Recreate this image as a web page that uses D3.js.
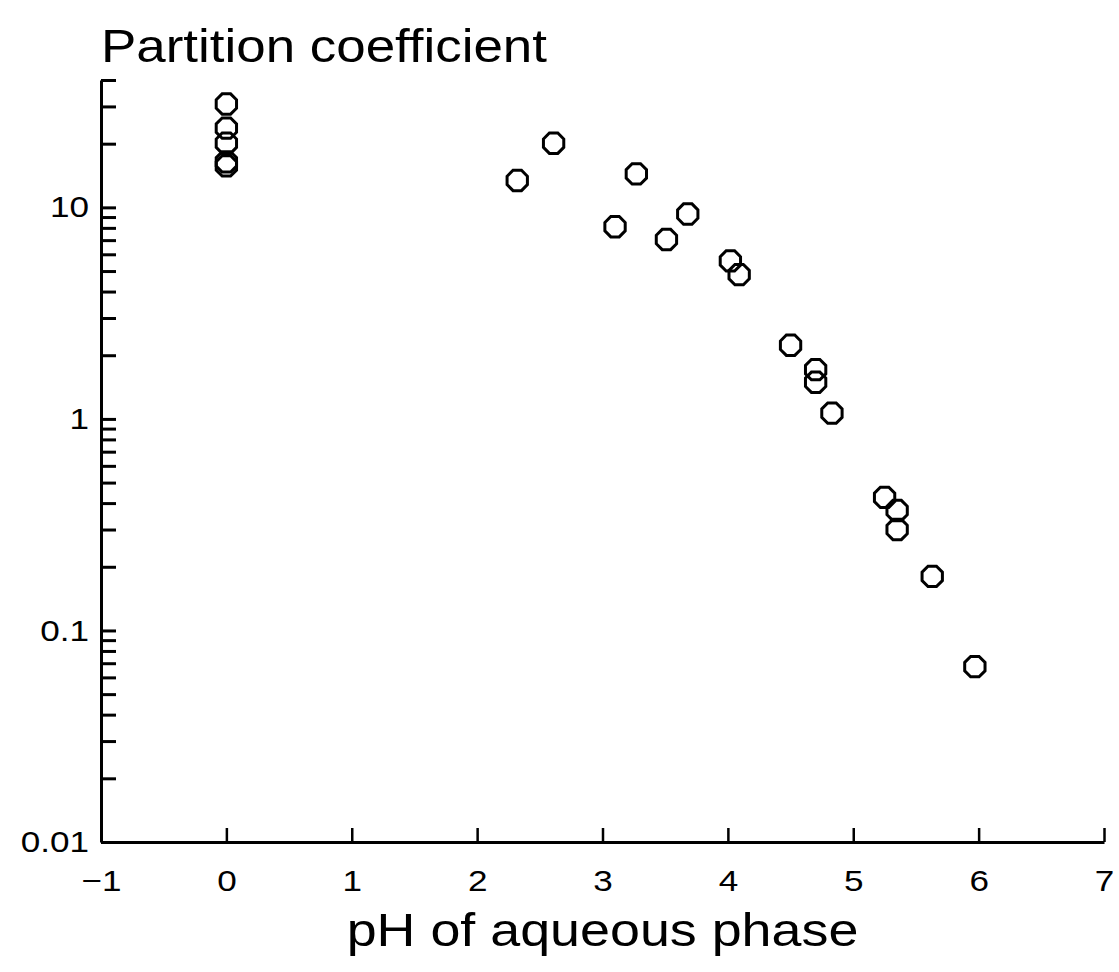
<!DOCTYPE html>
<html>
<head>
<meta charset="utf-8">
<script src="https://cdn.jsdelivr.net/npm/d3@7"></script>
<style>
  html, body { margin: 0; padding: 0; background: #fff; }
  svg { display: block; }
  text { font-family: "Liberation Sans", Arial, Helvetica, sans-serif; fill: #000; }
</style>
</head>
<body>
<svg id="chart" width="1119" height="972"></svg>
<script>
// ---- data ----
const pH = [0, 0, 0, 0, 0,
            2.32, 2.61, 3.10, 3.27, 3.51, 3.68,
            4.02, 4.09, 4.50, 4.70, 4.70, 4.83,
            5.25, 5.35, 5.35, 5.63, 5.97];
const partition = [30.8, 23.7, 20.1, 16.4, 15.7,
                   13.4, 20.1, 8.1, 14.4, 7.05, 9.3,
                   5.58, 4.81, 2.23, 1.71, 1.49, 1.065,
                   0.426, 0.369, 0.300, 0.180, 0.0674];
const xTicks = [-1, 0, 1, 2, 3, 4, 5, 6, 7];
const xTickLabels = ["\u22121", "0", "1", "2", "3", "4", "5", "6", "7"];
const yTicks = [0.01, 0.02, 0.03, 0.04, 0.05, 0.06, 0.07, 0.08, 0.09,
                0.1, 0.2, 0.3, 0.4, 0.5, 0.6, 0.7, 0.8, 0.9,
                1, 2, 3, 4, 5, 6, 7, 8, 9,
                10, 20, 30, 40];
const yLabelled = [0.01, 0.1, 1, 10];
const yLabels = ["0.01", "0.1", "1", "10"];
const xTitle = "pH of aqueous phase";
const yTitle = "Partition coefficient";

// ---- layout ----
const svg = d3.select("#chart");
const mLeft = 101, mRight = 1104, mBottom = 842, mTop = 80;
const WIDEN = 1.17; // original lettering is wider than Liberation Sans

function widen(sel, f) {
  sel.each(function () {
    const w = this.getComputedTextLength();
    if (w > 0) d3.select(this).attr("textLength", w * f).attr("lengthAdjust", "spacingAndGlyphs");
  });
}

const x = d3.scaleLinear().domain([-1, 7]).range([mLeft, mRight]);
const y = d3.scaleLog().domain([0.01, 40]).range([mBottom, mTop]);

// x axis
const xAxis = d3.axisBottom(x)
  .tickValues(xTicks)
  .tickSizeInner(-14)
  .tickSizeOuter(0)
  .tickPadding(28)
  .tickFormat((d, i) => xTickLabels[i]);
const gx = svg.append("g").attr("transform", `translate(0,${mBottom})`).call(xAxis);
gx.select(".domain").attr("stroke-width", 3).attr("stroke", "#000");
gx.selectAll(".tick line").attr("stroke-width", 2.5).attr("stroke", "#000");
gx.selectAll(".tick text").attr("font-size", 30).attr("font-family", null);
widen(gx.selectAll(".tick text"), WIDEN);

// y axis
const yAxis = d3.axisLeft(y)
  .tickValues(yTicks)
  .tickSizeInner(-15)
  .tickSizeOuter(0)
  .tickPadding(12)
  .tickFormat(d => {
    const i = yLabelled.findIndex(v => Math.abs(v - d) < 1e-9);
    return i >= 0 ? yLabels[i] : "";
  });
const gy = svg.append("g").attr("transform", `translate(${mLeft},0)`).call(yAxis);
gy.select(".domain").attr("stroke-width", 3).attr("stroke", "#000");
gy.selectAll(".tick line").attr("stroke-width", 3).attr("stroke", "#000");
gy.selectAll(".tick text").attr("font-size", 30).attr("font-family", null);
widen(gy.selectAll(".tick text"), WIDEN);

// titles
const t1 = svg.append("text")
  .attr("x", mLeft).attr("y", 62)
  .attr("font-size", 46)
  .text(yTitle);
widen(t1, 1.15);
const t2 = svg.append("text")
  .attr("x", (mLeft + mRight) / 2).attr("y", 946)
  .attr("text-anchor", "middle")
  .attr("font-size", 46)
  .text(xTitle);
widen(t2, WIDEN);

// octagon markers
const R = 11;
const octagon = d3.range(8).map(k => {
  const a = Math.PI / 8 + k * Math.PI / 4;
  return [R * Math.cos(a), R * Math.sin(a)];
});
const octPath = d3.line().curve(d3.curveLinearClosed)(octagon);

svg.append("g").selectAll("path")
  .data(pH.map((v, i) => [v, partition[i]]))
  .join("path")
  .attr("transform", d => `translate(${x(d[0])},${y(d[1])})`)
  .attr("d", octPath)
  .attr("fill", "none")
  .attr("stroke", "#000")
  .attr("stroke-width", 3);
</script>
</body>
</html>
